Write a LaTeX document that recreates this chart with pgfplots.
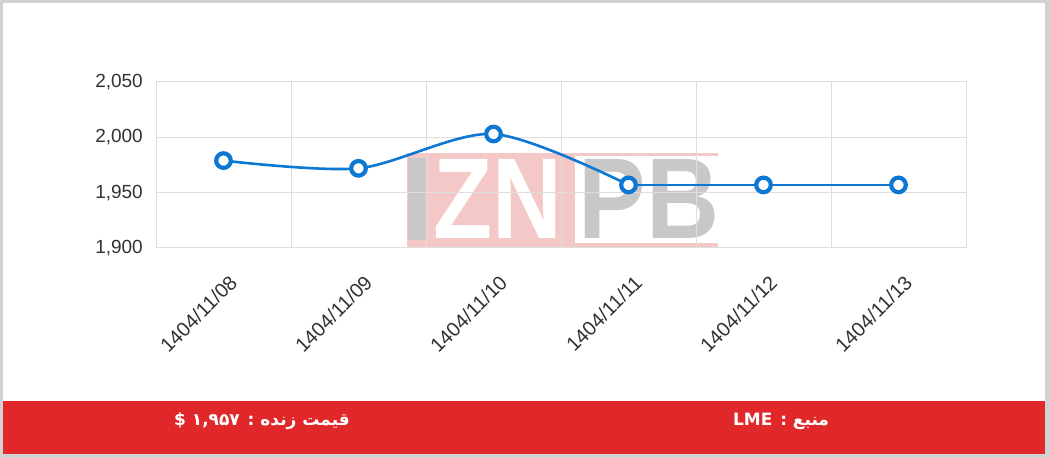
\documentclass[border=0pt]{standalone}
\usepackage{pgfplots}
\pgfplotsset{compat=1.18}
\usepackage{fontspec}
\setmainfont{Liberation Sans}
\newfontfamily\arabicfont[Script=Arabic]{DejaVu Sans}
\TeXXeTstate=1
\definecolor{barred}{RGB}{224,40,42}
\definecolor{lineblue}{RGB}{12,120,212}
\definecolor{wmpink}{RGB}{245,200,200}
\definecolor{wmgrey}{RGB}{200,200,200}
\definecolor{gridgrey}{RGB}{222,222,222}
\definecolor{ticktext}{RGB}{50,50,50}
\begin{document}
\begin{tikzpicture}[x=1pt,y=1pt]
\useasboundingbox (0,0) rectangle (1050,458);
% frame
\fill[gray!35] (0,0) rectangle (1050,458);
\fill[white] (3,4) rectangle (1045,455);
% watermark
\fill[wmpink] (407,211) rectangle (575,305);
\fill[wmpink] (575,302) rectangle (718,305);
\fill[wmpink] (575,211) rectangle (718,215);
\fill[wmgrey] (408,218) rectangle (426,300);
\node[inner sep=0pt, text=white, font=\fontsize{115}{115}\selectfont\bfseries] at (498,259) {\scalebox{0.84}[1]{ZN}};
\node[inner sep=0pt, text=wmgrey, font=\fontsize{115}{115}\selectfont\bfseries] at (649,259) {\scalebox{0.88}[1]{PB}};
\begin{axis}[
  at={(156pt,210pt)}, anchor=south west,
  scale only axis, width=810pt, height=166pt,
  xmin=-0.5, xmax=5.5, ymin=1900, ymax=2050,
  xtick={0,1,2,3,4,5},
  xticklabels={1404/11/08,1404/11/09,1404/11/10,1404/11/11,1404/11/12,1404/11/13},
  minor xtick={-0.5,0.5,1.5,2.5,3.5,4.5,5.5},
  ytick={1900,1950,2000,2050},
  xminorgrids=true, ymajorgrids=true,
  grid style={draw=gridgrey, line width=1pt},
  minor grid style={draw=gridgrey, line width=1pt},
  axis line style={draw=gridgrey, line width=1pt},
  major tick length=0pt, minor tick length=0pt,
  tick style={draw=none},
  /pgf/number format/assume math mode=true,
  /pgf/number format/1000 sep={,},
  yticklabel style={font=\fontsize{19}{22}\selectfont, text=ticktext, anchor=east, inner sep=0pt, xshift=-13pt},
  xticklabel style={font=\fontsize{20}{22}\selectfont, text=ticktext, xshift=10pt, yshift=-31pt, rotate=45, anchor=east, inner sep=0pt},
  clip=false,
]
\addplot[smooth, tension=0.5, color=lineblue, line width=2.6pt]
  coordinates {(0,1979) (1,1972) (2,2003) (3,1957)};
\addplot[sharp plot, color=lineblue, line width=2.6pt]
  coordinates {(3,1957) (4,1957) (5,1957)};
\addplot[only marks, mark=*, mark size=7.3pt, mark options={fill=white, draw=lineblue, line width=4.2pt}]
  coordinates {(0,1979) (1,1972) (2,2003) (3,1957) (4,1957) (5,1957)};
\end{axis}
% bottom bar
\fill[barred] (3,4) rectangle (1045,57);
\node[text=white, font=\arabicfont\bfseries\fontsize{17}{19}\selectfont] at (262,37) {\beginR قیمت زنده : \beginL۱,۹۵۷\endL{} \$\endR};
\node[text=white, font=\arabicfont\bfseries\fontsize{17}{19}\selectfont] at (781,37) {\beginR منبع : \beginL LME\endL\endR};
\end{tikzpicture}
\end{document}
